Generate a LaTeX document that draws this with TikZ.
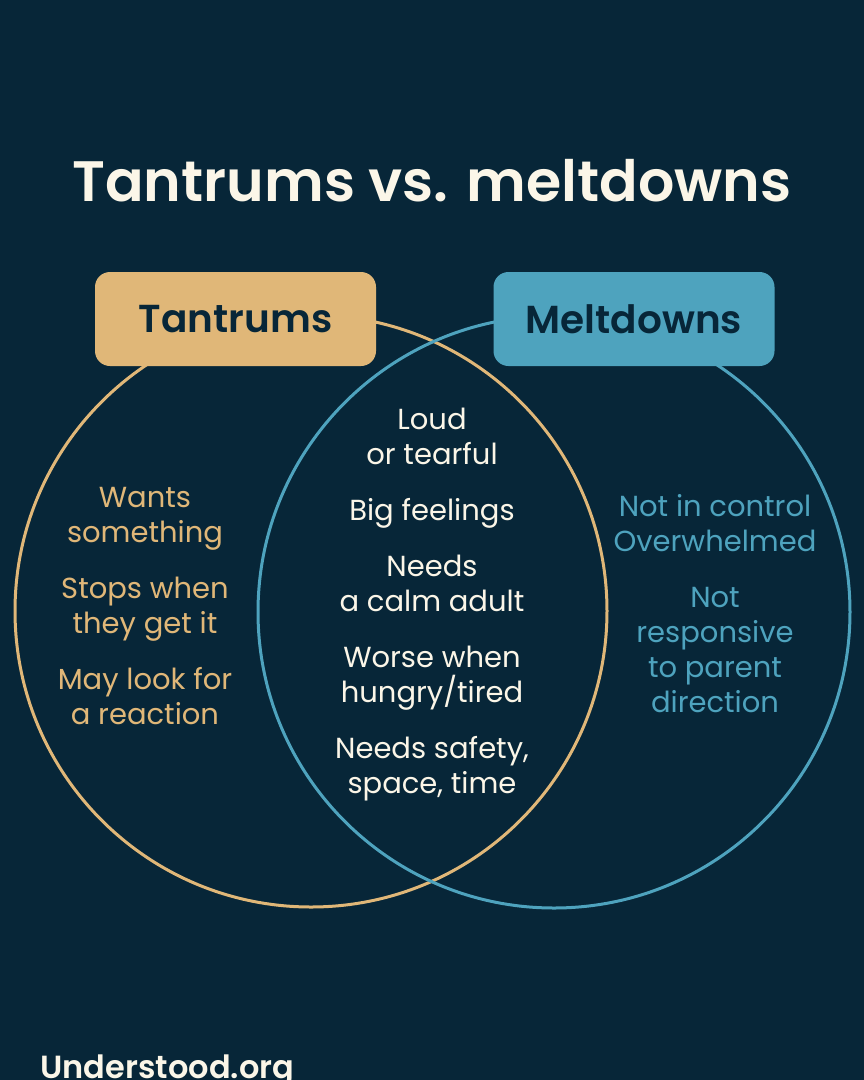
\documentclass[tikz,border=0pt]{standalone}
\usepackage{fontspec}
\setmainfont{Poppins}[BoldFont={Poppins SemiBold}]
\usepackage{xcolor}
\definecolor{navybg}{RGB}{7,38,56}
\definecolor{tanline}{RGB}{224,183,120}
\definecolor{blueline}{RGB}{78,163,190}
\definecolor{creamtxt}{RGB}{251,246,232}
\usetikzlibrary{positioning}

\begin{document}
\begin{tikzpicture}[x=1pt,y=-1pt,
ring/.style={circle,draw,line width=3pt,minimum size=592pt,inner sep=0pt},
tag/.style={rounded corners=15pt,minimum width=281pt,minimum height=94pt,text=navybg,font=\fontsize{39}{45}\selectfont\bfseries},
body/.style={align=center,font=\fontsize{29}{35}\selectfont}]
\fill[navybg] (0,0) rectangle (864,1080);
\useasboundingbox (0,0) rectangle (864,1080);
\node[font=\fontsize{57}{62}\selectfont\bfseries,text=creamtxt] (title) at (432,181) {Tantrums vs. meltdowns};
\node[ring,draw=tanline] (tcirc) at (311,611) {};
\node[ring,draw=blueline] (mcirc) at (554,612) {};
\node[tag,fill=tanline] (tbox) at (235.5,319) {Tantrums};
\node[tag,fill=blueline] (mbox) at (634,319) {Meltdowns};
\node[body,text=tanline] (tleft) at (145,606) {Wants\\something\\[21pt]Stops when\\they get it\\[21pt]May look for\\a reaction};
\node[body,text=creamtxt] (both) at (432,605) {Loud\\or tearful\\[21pt]Big feelings\\[21pt]Needs\\a calm adult\\[21pt]Worse when\\hungry/tired\\[21pt]Needs safety,\\space, time};
\node[body,text=blueline] (mright) at (715,604) {Not in control\\Overwhelmed\\[21pt]Not\\responsive\\to parent\\direction};
\node[font=\fontsize{32}{38}\selectfont\bfseries,text=creamtxt,anchor=base west] (brand) at (37,1078) {Understood.org};
\end{tikzpicture}
\end{document}
